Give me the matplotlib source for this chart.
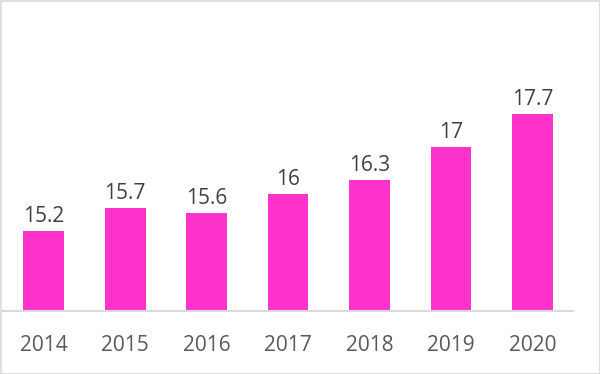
import matplotlib
matplotlib.use("Agg")
import matplotlib.pyplot as plt
from matplotlib.patches import Rectangle

years = ["2014", "2015", "2016", "2017", "2018", "2019", "2020"]
values = [15.2, 15.7, 15.6, 16.0, 16.3, 17.0, 17.7]

BAR_COLOR = "#FF33CC"
TEXT_COLOR = "#404040"
TICK_COLOR = "#595959"

plt.rcParams["font.family"] = ["Open Sans", "DejaVu Sans"]

fig = plt.figure(figsize=(6, 3.74), dpi=100)
ax = fig.add_axes([3 / 600, 63 / 374, 570 / 600, 280.8 / 374])

x = range(len(years))
bars = ax.bar(x, values, width=0.5, color=BAR_COLOR)

for b, v in zip(bars, values):
    ax.annotate(f"{v:g}", xy=(b.get_x() + b.get_width() / 2, v),
                xytext=(0, 3), textcoords="offset points",
                ha="center", va="bottom", fontsize=15, color=TEXT_COLOR)

ax.set_xlim(-0.5, len(years) - 0.5)
ax.set_ylim(13.5, 19.5)
ax.set_xticks(list(x))
ax.set_xticklabels(years, fontsize=15, color=TICK_COLOR)
ax.tick_params(axis="x", length=0, pad=17)
ax.set_yticks([])

for side in ["top", "right", "left"]:
    ax.spines[side].set_visible(False)
ax.spines["bottom"].set_color("#d9d9d9")
ax.spines["bottom"].set_linewidth(1.5)

# light gray chart border
fig.patches.append(Rectangle((0.5 / 600, 0.5 / 374), 599 / 600, 373 / 374,
                             transform=fig.transFigure, fill=False,
                             edgecolor="#d9d9d9", linewidth=1.2))

fig.savefig("out.png", dpi=100)
